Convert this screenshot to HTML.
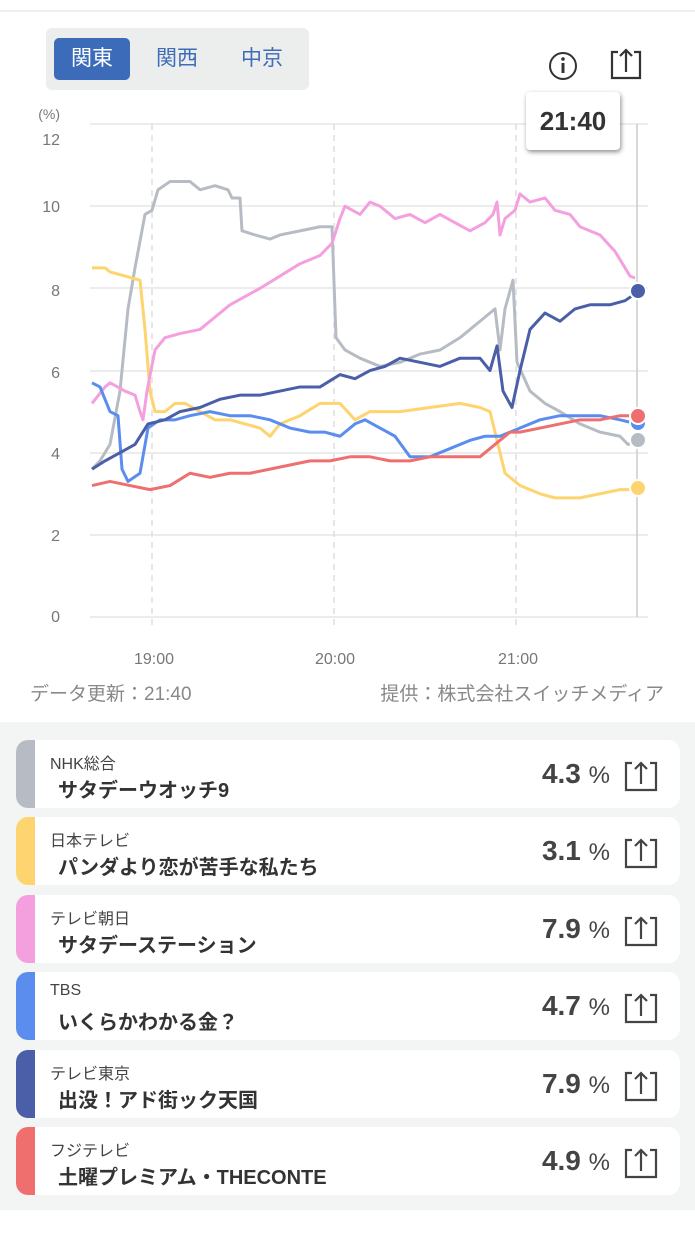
<!DOCTYPE html>
<html><head><meta charset="utf-8"><style>
body{margin:0;width:695px;height:1245px;background:#fff;font-family:"Liberation Sans","Noto Sans CJK JP",sans-serif;position:relative;overflow:hidden}
.topline{position:absolute;top:10px;left:0;width:695px;height:2px;background:#eeeff0}
.tabs{position:absolute;left:46px;top:28px;width:263px;height:62px;background:#eceeee;border-radius:6px}
.tab{position:absolute;top:10px;height:42px;line-height:42px;font-size:21px;color:#3e6cb8;text-align:center;width:76px}
.act{background:#3c6cb9;color:#fff;border-radius:5px}
.tip{position:absolute;left:526px;top:92px;width:94px;height:58px;background:#fff;border-radius:4px;box-shadow:1px 2px 5px rgba(0,0,0,.45);font-size:26px;font-weight:bold;color:#333;text-align:center;line-height:58px}
.list{position:absolute;left:0;top:722px;width:695px;height:488px;background:#f3f4f4}
.card{position:absolute;left:16px;width:664px;height:68px;background:#fff;border-radius:12px;overflow:hidden}
.bar{position:absolute;left:0;top:0;width:19px;height:68px}
.ch{position:absolute;left:34px;top:10px;font-size:16px;color:#444}
.pg{position:absolute;left:42px;top:34px;font-size:20px;font-weight:bold;color:#333}
.pc{position:absolute;right:70px;top:18px;font-size:28px;font-weight:bold;color:#444}
.pc span{font-size:24px;font-weight:normal}
.ic{position:absolute;right:22px;top:20px}
</style></head><body>
<div class="topline"></div>
<div class="tabs"><div class="tab act" style="left:8px">関東</div><div class="tab" style="left:93px">関西</div><div class="tab" style="left:178px">中京</div></div>
<svg style="position:absolute;left:0;top:0" width="695" height="720">
<circle cx="563" cy="66" r="13" fill="none" stroke="#333" stroke-width="2"/><circle cx="563" cy="59" r="1.8" fill="#333"/><rect x="561.5" y="63" width="3" height="10" fill="#333"/>
<path d="M618 52h-6v26h28v-26h-6M626 72v-22M620 56l6-6 6 6" fill="none" stroke="#333" stroke-width="2.2"/>
<g font-size="16" fill="#777" text-anchor="end"><text x="60" y="119" font-size="14">(%)</text>
<text x="60" y="145">12</text><text x="60" y="212">10</text><text x="60" y="296">8</text><text x="60" y="378">6</text><text x="60" y="459">4</text><text x="60" y="541">2</text><text x="60" y="622">0</text></g>
<g stroke="#e6e6e6" stroke-width="1.5"><line x1="90" x2="648" y1="124" y2="124"/><line x1="90" x2="648" y1="206" y2="206"/><line x1="90" x2="648" y1="288" y2="288"/><line x1="90" x2="648" y1="371" y2="371"/><line x1="90" x2="648" y1="453" y2="453"/><line x1="90" x2="648" y1="535" y2="535"/><line x1="90" x2="648" y1="617" y2="617"/></g>
<g stroke="#ddd" stroke-width="1.5" stroke-dasharray="6,5"><line x1="152" x2="152" y1="124" y2="630"/><line x1="334" x2="334" y1="124" y2="630"/><line x1="516" x2="516" y1="124" y2="630"/></g>
<line x1="637" x2="637" y1="124" y2="617" stroke="#ccc" stroke-width="1.5"/>
<g font-size="16" fill="#777" text-anchor="middle"><text x="154" y="664">19:00</text><text x="335" y="664">20:00</text><text x="518" y="664">21:00</text></g>
<text x="30" y="700" font-size="19" fill="#888">データ更新：21:40</text>
<text x="664" y="700" font-size="19" fill="#888" text-anchor="end">提供：株式会社スイッチメディア</text>
<g fill="none" stroke-width="3" stroke-linejoin="round" transform="matrix(1,0,0,-41.08,0,617)" vector-effect="non-scaling-stroke">
<polyline vector-effect="non-scaling-stroke" stroke="#b7bcc4" points="92,3.6 100,3.8 110,4.2 120,5.5 128,7.5 135,8.5 145,9.8 152,9.9 158,10.4 170,10.6 190,10.6 200,10.4 215,10.5 228,10.4 232,10.2 240,10.2 242,9.4 255,9.3 270,9.2 280,9.3 300,9.4 320,9.5 332,9.5 336,6.8 345,6.5 360,6.3 380,6.1 400,6.2 420,6.4 440,6.5 460,6.8 480,7.2 495,7.5 500,6.5 505,7.5 513,8.2 517,6.2 530,5.5 545,5.2 560,5.0 580,4.7 600,4.5 620,4.4 628,4.2 637,4.3"/>
<polyline vector-effect="non-scaling-stroke" stroke="#fdd46f" points="92,8.5 105,8.5 110,8.4 140,8.2 145,7.0 150,5.5 155,5.0 165,5.0 175,5.2 185,5.2 200,5.0 215,4.8 230,4.8 260,4.6 270,4.4 280,4.7 300,4.9 320,5.2 340,5.2 355,4.8 370,5.0 400,5.0 430,5.1 460,5.2 480,5.1 490,5.0 495,4.5 505,3.5 520,3.2 540,3.0 555,2.9 580,2.9 600,3.0 620,3.1 637,3.1"/>
<polyline vector-effect="non-scaling-stroke" stroke="#f4a0de" points="92,5.2 105,5.6 110,5.7 125,5.5 135,5.4 140,5.0 143,4.8 147,5.5 155,6.5 165,6.8 180,6.9 200,7.0 215,7.3 230,7.6 245,7.8 260,8.0 280,8.3 300,8.6 320,8.8 332,9.1 340,9.7 345,10.0 360,9.8 370,10.1 380,10.0 395,9.7 410,9.8 425,9.6 440,9.8 455,9.6 470,9.4 485,9.6 493,9.8 497,10.1 500,9.3 505,9.7 515,9.9 520,10.3 530,10.1 545,10.2 555,9.9 570,9.8 580,9.5 600,9.3 615,8.9 625,8.5 630,8.3 635,8.25"/>
<polyline vector-effect="non-scaling-stroke" stroke="#5b8def" points="92,5.7 100,5.6 110,5.0 118,4.9 122,3.6 128,3.3 140,3.5 148,4.6 160,4.8 175,4.8 190,4.9 210,5.0 230,4.9 250,4.9 270,4.8 290,4.6 310,4.5 325,4.5 340,4.4 355,4.7 365,4.8 380,4.6 395,4.4 410,3.9 430,3.9 450,4.1 470,4.3 485,4.4 500,4.4 520,4.6 540,4.8 560,4.9 580,4.9 600,4.9 620,4.8 637,4.7"/>
<polyline vector-effect="non-scaling-stroke" stroke="#ef6f6f" points="92,3.2 110,3.3 130,3.2 150,3.1 170,3.2 190,3.5 210,3.4 230,3.5 250,3.5 270,3.6 290,3.7 310,3.8 330,3.8 350,3.9 370,3.9 390,3.8 410,3.8 430,3.9 460,3.9 480,3.9 495,4.2 510,4.5 520,4.5 540,4.6 560,4.7 580,4.8 600,4.8 620,4.9 637,4.9"/>
<polyline vector-effect="non-scaling-stroke" stroke="#4a5fa8" points="92,3.6 105,3.8 120,4.0 135,4.2 148,4.7 165,4.8 180,5.0 200,5.1 220,5.3 240,5.4 260,5.4 280,5.5 300,5.6 320,5.6 340,5.9 355,5.8 370,6.0 385,6.1 400,6.3 420,6.2 440,6.1 460,6.3 480,6.3 490,6.0 497,6.6 503,5.5 512,5.1 520,6.0 530,7.0 545,7.4 560,7.2 575,7.5 590,7.6 610,7.6 625,7.7 637,7.9"/>
</g>
<g stroke="#fff" stroke-width="2"><circle cx="638" cy="440" r="8" fill="#b7bcc4"/><circle cx="638" cy="488" r="8" fill="#fdd46f"/><circle cx="638" cy="423" r="8" fill="#5b8def"/><circle cx="638" cy="416" r="8" fill="#ef6f6f"/><circle cx="638" cy="291" r="8" fill="#4a5fa8"/></g>
</svg>
<div class="tip">21:40</div>
<div class="list">
<div class="card" style="top:18px"><div class="bar" style="background:#b7bcc4"></div><div class="ch">NHK総合</div><div class="pg">サタデーウオッチ9</div><div class="pc">4.3 <span>%</span></div><svg class="ic" width="34" height="32"><path d="M8 3H2v27h30V3h-6M17 24V3M11 9l6-6 6 6" fill="none" stroke="#444" stroke-width="2.2"/></svg></div>
<div class="card" style="top:95px"><div class="bar" style="background:#fdd46f"></div><div class="ch">日本テレビ</div><div class="pg">パンダより恋が苦手な私たち</div><div class="pc">3.1 <span>%</span></div><svg class="ic" width="34" height="32"><path d="M8 3H2v27h30V3h-6M17 24V3M11 9l6-6 6 6" fill="none" stroke="#444" stroke-width="2.2"/></svg></div>
<div class="card" style="top:173px"><div class="bar" style="background:#f4a0de"></div><div class="ch">テレビ朝日</div><div class="pg">サタデーステーション</div><div class="pc">7.9 <span>%</span></div><svg class="ic" width="34" height="32"><path d="M8 3H2v27h30V3h-6M17 24V3M11 9l6-6 6 6" fill="none" stroke="#444" stroke-width="2.2"/></svg></div>
<div class="card" style="top:250px"><div class="bar" style="background:#5b8def"></div><div class="ch">TBS</div><div class="pg">いくらかわかる金？</div><div class="pc">4.7 <span>%</span></div><svg class="ic" width="34" height="32"><path d="M8 3H2v27h30V3h-6M17 24V3M11 9l6-6 6 6" fill="none" stroke="#444" stroke-width="2.2"/></svg></div>
<div class="card" style="top:328px"><div class="bar" style="background:#4a5fa8"></div><div class="ch">テレビ東京</div><div class="pg">出没！アド街ック天国</div><div class="pc">7.9 <span>%</span></div><svg class="ic" width="34" height="32"><path d="M8 3H2v27h30V3h-6M17 24V3M11 9l6-6 6 6" fill="none" stroke="#444" stroke-width="2.2"/></svg></div>
<div class="card" style="top:405px"><div class="bar" style="background:#ef6f6f"></div><div class="ch">フジテレビ</div><div class="pg">土曜プレミアム・THECONTE</div><div class="pc">4.9 <span>%</span></div><svg class="ic" width="34" height="32"><path d="M8 3H2v27h30V3h-6M17 24V3M11 9l6-6 6 6" fill="none" stroke="#444" stroke-width="2.2"/></svg></div>
</div>
</body></html>
